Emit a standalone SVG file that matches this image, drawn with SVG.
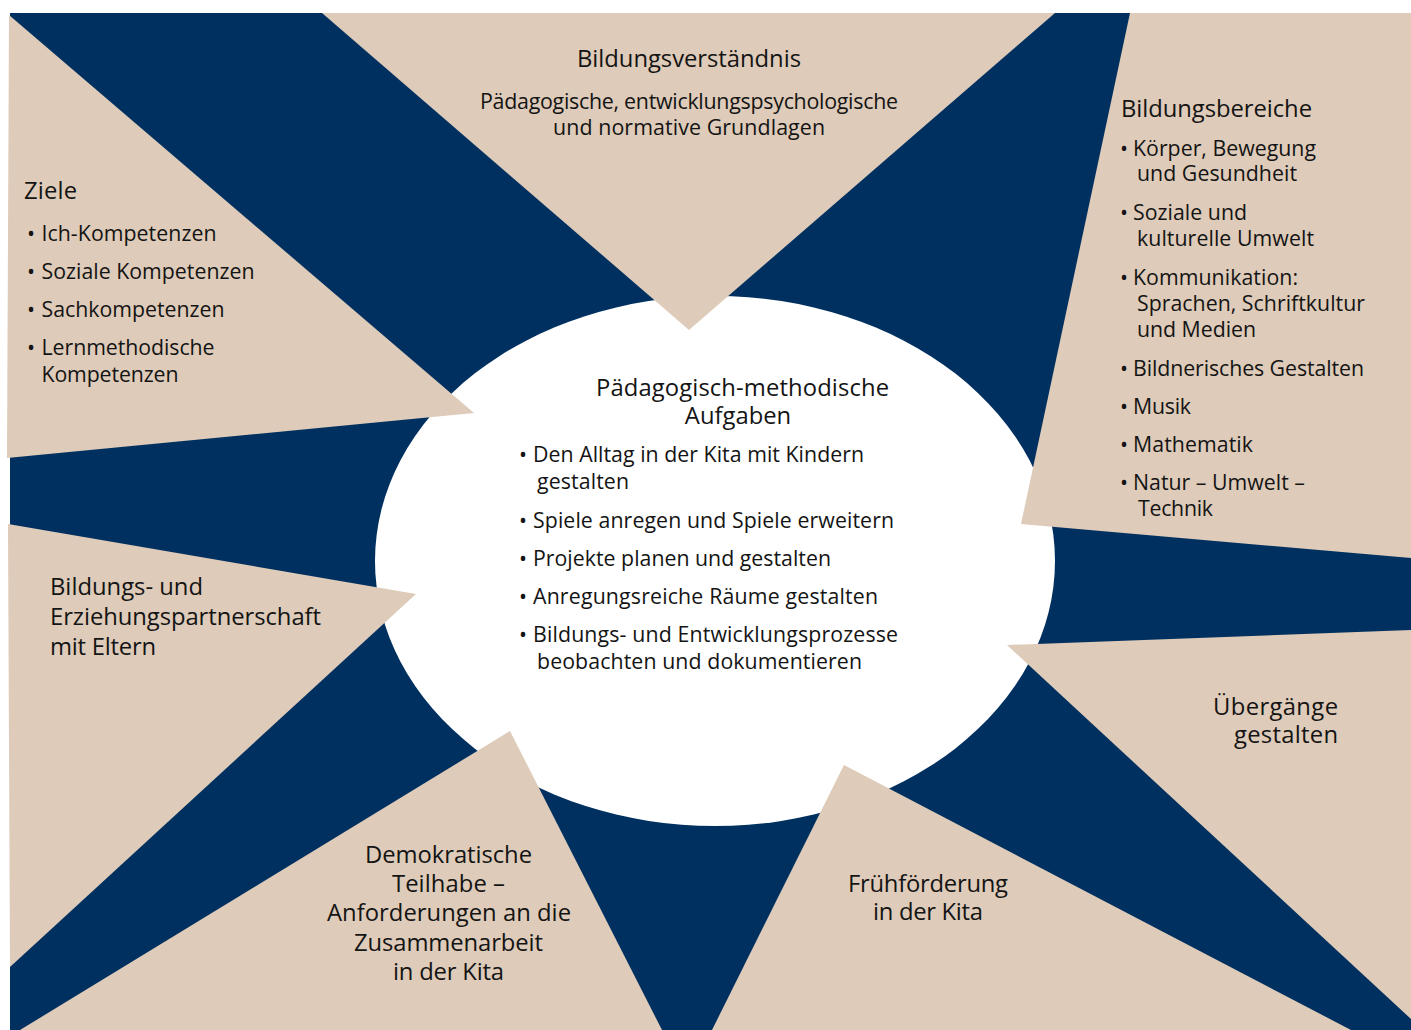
<svg xmlns="http://www.w3.org/2000/svg" width="1411" height="1030" viewBox="0 0 1411 1030">
<style>
.navy{fill:#00305f}
.beige{fill:#decbb9}
.t{font-family:"Open Sans","Noto Sans","Liberation Sans",sans-serif;fill:#141414}
.h{font-size:23.8px}
.l{font-size:21.3px}
.s{font-size:21.4px}
.m{text-anchor:middle}
.e{text-anchor:end}
</style>
<rect width="1411" height="1030" fill="#ffffff"/>
<g id="background">
<rect class="navy" x="10" y="13" width="1401" height="1017"/>
</g>
<g id="center">
<ellipse cx="715" cy="561" rx="340" ry="265" fill="#ffffff"/>
</g>
<g id="ziele">
<polygon class="beige" points="9,15 474,413 7,458"/>
</g>
<g id="bildungsverstaendnis">
<polygon class="beige" points="322,13 1055,13 689,330"/>
</g>
<g id="bildungsbereiche">
<polygon class="beige" points="1130,13 1411,13 1411,558 1021,524"/>
</g>
<g id="partnerschaft">
<polygon class="beige" points="8,524 416,594 10,967"/>
</g>
<g id="demokratische">
<polygon class="beige" points="510,731 662,1030 20,1030"/>
</g>
<g id="fruehfoerderung">
<polygon class="beige" points="844,765 1351,1030 712,1030"/>
</g>
<g id="uebergaenge">
<polygon class="beige" points="1007,645 1411,630 1411,1019"/>
</g>
<g id="connectors"></g>
<g id="text-bildungsverstaendnis" class="t">
<text class="h" x="577" y="67" textLength="224">Bildungsverständnis</text>
<text class="s" x="480" y="109" textLength="418">Pädagogische, entwicklungspsychologische</text>
<text class="s" x="553" y="135" textLength="272">und normative Grundlagen</text>
</g>
<g id="text-ziele" class="t">
<text class="h" x="24" y="199" textLength="53">Ziele</text>
<g class="l">
<text x="27" y="241">•</text>
<text x="41.5" y="241" textLength="175">Ich-Kompetenzen</text>
<text x="27" y="279">•</text>
<text x="41.5" y="279" textLength="213">Soziale Kompetenzen</text>
<text x="27" y="317">•</text>
<text x="41.5" y="317" textLength="183">Sachkompetenzen</text>
<text x="27" y="355">•</text>
<text x="41.5" y="355" textLength="173">Lernmethodische</text>
<text x="41.5" y="382" textLength="137">Kompetenzen</text>
</g>
</g>
<g id="text-bildungsbereiche" class="t">
<text class="h" x="1121" y="117" textLength="191">Bildungsbereiche</text>
<g class="l">
<text x="1120" y="156">•</text>
<text x="1133" y="156" textLength="183">Körper, Bewegung</text>
<text x="1137" y="181" textLength="160">und Gesundheit</text>
<text x="1120" y="220">•</text>
<text x="1133" y="220" textLength="114">Soziale und</text>
<text x="1137" y="246" textLength="177">kulturelle Umwelt</text>
<text x="1120" y="285">•</text>
<text x="1133" y="285" textLength="165">Kommunikation:</text>
<text x="1137" y="311" textLength="228">Sprachen, Schriftkultur</text>
<text x="1137" y="337" textLength="119">und Medien</text>
<text x="1120" y="376">•</text>
<text x="1133" y="376" textLength="231">Bildnerisches Gestalten</text>
<text x="1120" y="414">•</text>
<text x="1133" y="414" textLength="58">Musik</text>
<text x="1120" y="452">•</text>
<text x="1133" y="452" textLength="120">Mathematik</text>
<text x="1120" y="490">•</text>
<text x="1133" y="490" textLength="172">Natur – Umwelt –</text>
<text x="1138" y="516" textLength="75">Technik</text>
</g>
</g>
<g id="text-center" class="t">
<text class="h" x="596" y="396" textLength="293">Pädagogisch-methodische</text>
<text class="h m" x="738" y="424">Aufgaben</text>
<g class="l">
<text x="519" y="462">•</text>
<text x="533" y="462" textLength="331">Den Alltag in der Kita mit Kindern</text>
<text x="537" y="489" textLength="92">gestalten</text>
<text x="519" y="528">•</text>
<text x="533" y="528" textLength="361">Spiele anregen und Spiele erweitern</text>
<text x="519" y="566">•</text>
<text x="533" y="566" textLength="298">Projekte planen und gestalten</text>
<text x="519" y="604">•</text>
<text x="533" y="604" textLength="345">Anregungsreiche Räume gestalten</text>
<text x="519" y="642">•</text>
<text x="533" y="642" textLength="365">Bildungs- und Entwicklungsprozesse</text>
<text x="537" y="669" textLength="325">beobachten und dokumentieren</text>
</g>
</g>
<g id="text-partnerschaft" class="t h">
<text x="50" y="595" textLength="153">Bildungs- und</text>
<text x="50" y="625" textLength="271">Erziehungspartnerschaft</text>
<text x="50" y="655" textLength="106">mit Eltern</text>
</g>
<g id="text-demokratische" class="t h m">
<text x="448.5" y="863" textLength="167">Demokratische</text>
<text x="448.5" y="892" textLength="113">Teilhabe –</text>
<text x="449" y="921" textLength="244">Anforderungen an die</text>
<text x="448.5" y="951" textLength="189">Zusammenarbeit</text>
<text x="448.5" y="980" textLength="111">in der Kita</text>
</g>
<g id="text-fruehfoerderung" class="t h m">
<text x="928" y="892" textLength="160">Frühförderung</text>
<text x="928" y="920" textLength="110">in der Kita</text>
</g>
<g id="text-uebergaenge" class="t h e">
<text x="1338" y="715" textLength="125">Übergänge</text>
<text x="1338" y="743" textLength="104">gestalten</text>
</g>
</svg>
